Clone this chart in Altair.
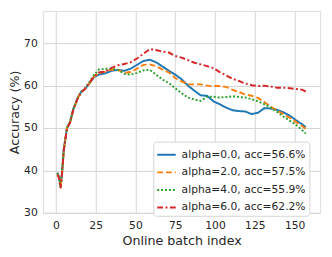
import altair as alt
import pandas as pd

batch_index = [1, 2, 3, 4, 5, 7, 9, 11, 14, 16, 18, 21, 24, 27, 31, 35, 39, 43, 47, 51, 55, 59, 63, 67, 71, 75,
               79, 83, 87, 91, 95, 99, 103, 107, 111, 115, 119, 123, 127, 131, 135, 139, 143, 147, 151, 155, 157]

acc_alpha0 = [39.5, 38.5, 36.2, 40.0, 45.0, 50.0, 51.5, 54.5, 57.3, 58.6, 59.1, 60.5, 62.0, 62.6, 62.9, 63.5, 63.7,
              63.5, 64.0, 64.9, 65.8, 66.1, 65.5, 64.5, 63.5, 62.6, 61.5, 60.0, 58.8, 57.7, 57.6, 56.3, 55.6, 54.8,
              54.2, 54.0, 53.9, 53.3, 53.6, 54.7, 54.6, 54.3, 53.7, 52.9, 51.8, 50.8, 50.2]
acc_alpha2 = [39.3, 38.3, 36.0, 39.8, 44.8, 50.0, 51.4, 54.4, 57.2, 58.5, 59.1, 60.5, 62.1, 63.0, 63.3, 63.8, 63.7,
              63.0, 63.2, 64.0, 64.9, 65.0, 64.6, 63.8, 63.1, 61.8, 61.0, 60.3, 60.3, 60.3, 60.0, 59.9, 59.9, 59.7,
              59.0, 58.5, 57.9, 57.6, 57.1, 56.1, 55.0, 54.1, 53.3, 52.4, 51.4, 50.4, 49.8]
acc_alpha4 = [39.4, 38.4, 36.1, 39.9, 45.0, 50.1, 51.5, 54.5, 57.3, 58.6, 59.2, 60.8, 62.5, 63.8, 64.0, 64.0, 63.7,
              62.8, 62.6, 63.0, 63.6, 63.7, 62.6, 61.4, 60.6, 59.4, 58.2, 57.2, 56.7, 56.4, 57.4, 57.4, 57.2, 57.3,
              57.5, 57.3, 57.2, 56.8, 56.3, 55.6, 54.8, 53.8, 52.7, 51.7, 50.7, 49.4, 48.7]
acc_alpha6 = [39.0, 38.2, 35.8, 39.7, 44.8, 49.9, 51.3, 54.4, 57.2, 58.5, 59.1, 60.6, 62.2, 63.1, 63.3, 64.2, 64.8,
              65.1, 65.5, 66.4, 67.5, 68.6, 68.4, 68.0, 67.8, 67.0, 66.6, 66.0, 65.4, 65.0, 64.6, 64.1, 63.2, 62.4,
              61.6, 61.1, 60.5, 60.1, 59.9, 60.0, 59.8, 59.5, 59.5, 59.4, 59.2, 59.0, 58.6]

series_names = ["alpha=0.0, acc=56.6%", "alpha=2.0, acc=57.5%", "alpha=4.0, acc=55.9%", "alpha=6.0, acc=62.2%"]
series_values = [acc_alpha0, acc_alpha2, acc_alpha4, acc_alpha6]
series_colors = ["#1f77b4", "#ff7f0e", "#2ca02c", "#d62728"]
series_dashes = [[1, 0], [6, 3], [2, 2], [6, 2.5, 2, 2.5]]

x_ticks = [0, 25, 50, 75, 100, 125, 150]
y_ticks = [30, 40, 50, 60, 70]

rows = []
for name, vals in zip(series_names, series_values):
    for xi, yi in zip(batch_index, vals):
        rows.append({"batch": xi, "acc": yi, "series": name})
df = pd.DataFrame(rows)

FONT = "DejaVu Sans"
TXT = "#262626"
GRID = "#d4d4d4"

chart = alt.Chart(df).mark_line(strokeWidth=2, clip=True).encode(
    x=alt.X("batch:Q", scale=alt.Scale(domain=[-8, 166], nice=False, zero=False),
            axis=alt.Axis(values=x_ticks, title="Online batch index", labelFontSize=11, titleFontSize=13,
                          labelPadding=7, titlePadding=4, ticks=False, domain=False, gridColor=GRID,
                          labelColor=TXT, titleColor=TXT, labelFont=FONT, titleFont=FONT,
                          titleFontWeight="normal", labelFlush=False)),
    y=alt.Y("acc:Q", scale=alt.Scale(domain=[30, 77.6], nice=False, zero=False),
            axis=alt.Axis(values=y_ticks, title="Accuracy (%)", labelFontSize=11, titleFontSize=13,
                          labelPadding=6, titlePadding=2, ticks=False, domain=False, gridColor=GRID,
                          labelColor=TXT, titleColor=TXT, labelFont=FONT, titleFont=FONT,
                          titleFontWeight="normal", labelFlush=False)),
    color=alt.Color("series:N", scale=alt.Scale(domain=series_names, range=series_colors),
                    legend=alt.Legend(title=None, orient="none", legendX=113, legendY=134,
                                      symbolType="stroke", symbolStrokeWidth=2, symbolSize=361,
                                      labelFontSize=11, labelFont=FONT, labelColor=TXT, labelLimit=300,
                                      rowPadding=2, padding=3, strokeColor=GRID, fillColor="white",
                                      cornerRadius=3, symbolOffset=0, labelOffset=5)),
    strokeDash=alt.StrokeDash("series:N", scale=alt.Scale(domain=series_names, range=series_dashes),
                              legend=alt.Legend(title=None, orient="none", legendX=113, legendY=134)),
).properties(
    width=284, height=207,
    autosize=alt.AutoSizeParams(type="none"),
    padding={"left": 36, "top": 0, "right": 4, "bottom": 34},
).configure_view(stroke=GRID, strokeWidth=1).configure(background="white")

chart.save("out.html", embed_options={"renderer": "svg", "actions": False})
